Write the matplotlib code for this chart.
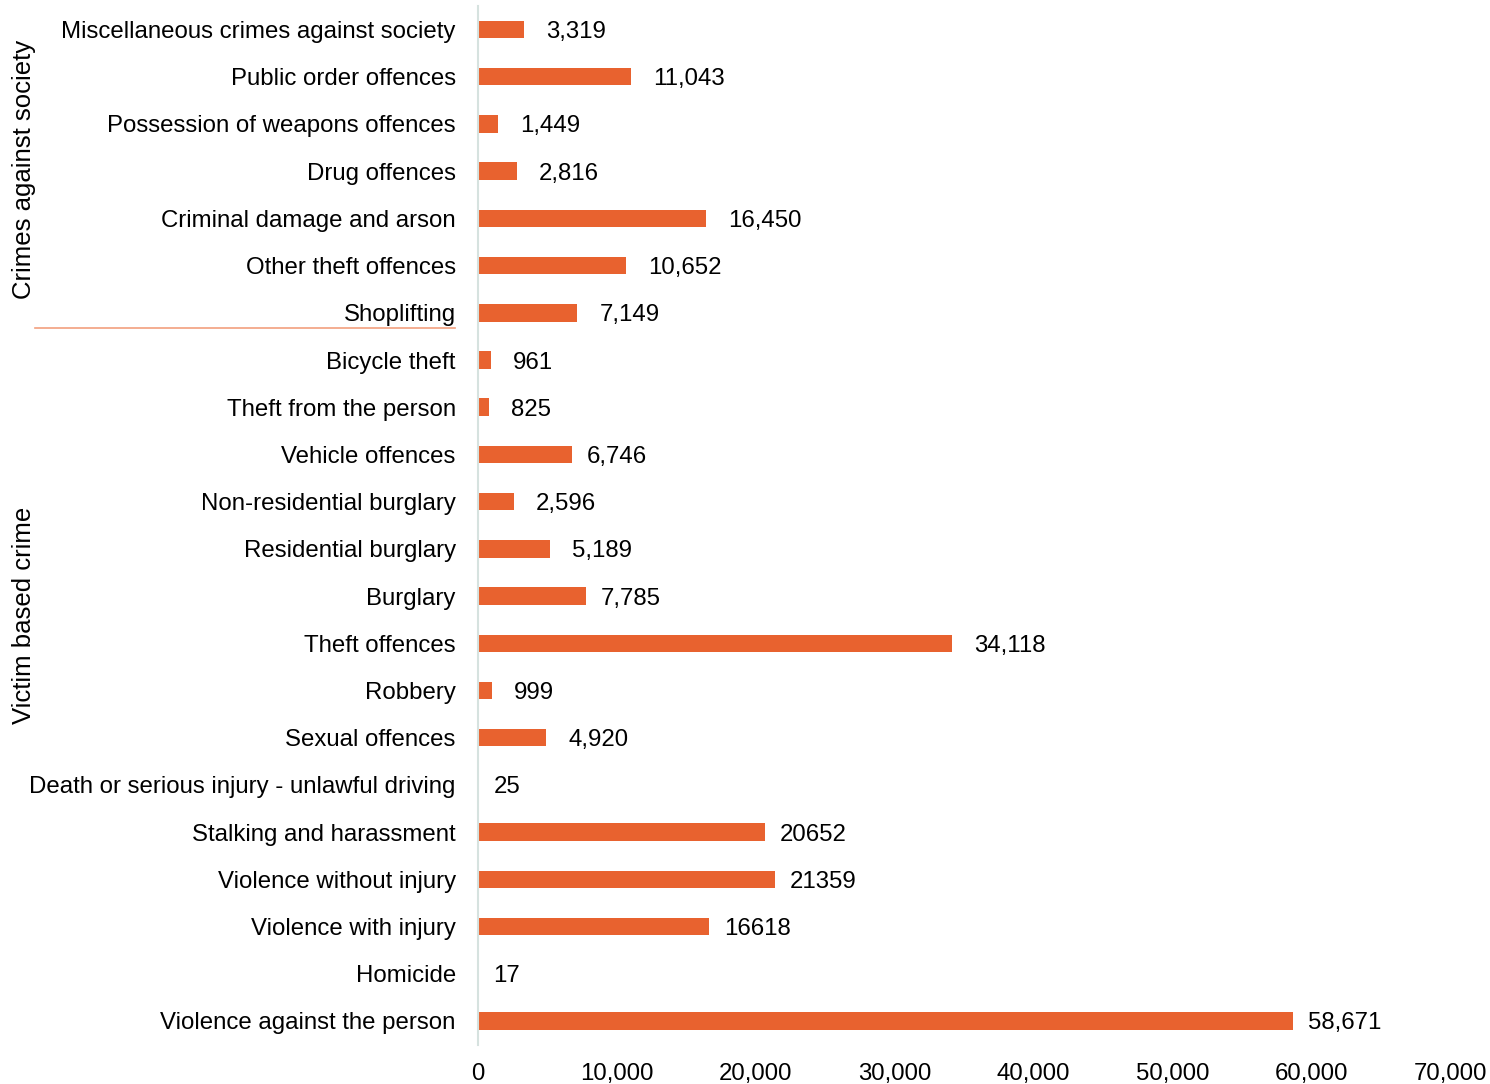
import numpy as np
import matplotlib.pyplot as plt

plt.rcParams['font.family'] = ['Liberation Sans', 'DejaVu Sans']

# offence categories, top to bottom
categories = [
    "Miscellaneous crimes against society",
    "Public order offences",
    "Possession of weapons offences",
    "Drug offences",
    "Criminal damage and arson",
    "Other theft offences",
    "Shoplifting",
    "Bicycle theft",
    "Theft from the person",
    "Vehicle offences",
    "Non-residential burglary",
    "Residential burglary",
    "Burglary",
    "Theft offences",
    "Robbery",
    "Sexual offences",
    "Death or serious injury - unlawful driving",
    "Stalking and harassment",
    "Violence without injury",
    "Violence with injury",
    "Homicide",
    "Violence against the person",
]
counts = [3319, 11043, 1449, 2816, 16450, 10652, 7149, 961, 825, 6746, 2596,
          5189, 7785, 34118, 999, 4920, 25, 20652, 21359, 16618, 17, 58671]
count_labels = ["3,319", "11,043", "1,449", "2,816", "16,450", "10,652", "7,149",
                "961", "825", "6,746", "2,596", "5,189", "7,785", "34,118", "999",
                "4,920", "25", "20652", "21359", "16618", "17", "58,671"]
xticks = [0, 10000, 20000, 30000, 40000, 50000, 60000, 70000]

bar_col = '#E8622F'
fs = 17.3

fig = plt.figure(figsize=(14.9, 10.84), dpi=100)
ax = fig.add_axes([0.3208, 0.03635, 0.6524, 0.9582])

y = np.arange(len(categories))
ax.barh(y, counts, height=0.37, color=bar_col)
ax.set_ylim(len(categories) - 0.5, -0.5)
ax.set_xlim(0, 70000)

ax.set_yticks(y)
ax.set_yticklabels(categories, fontsize=fs)
ax.set_xticks(xticks)
ax.set_xticklabels(["{:,}".format(v) for v in xticks], fontsize=fs)
ax.tick_params(axis='both', length=0, colors='black')
ax.tick_params(axis='y', pad=16)
ax.tick_params(axis='x', pad=13)

for s in ['top', 'right', 'bottom']:
    ax.spines[s].set_visible(False)
ax.spines['left'].set_color('#D6E2DF')
ax.spines['left'].set_linewidth(1.5)

# value labels; a few rows have theirs set closer to the bar end
px = 70000 / (0.6524 * 1490)
tight = {9, 12, 16, 17, 18, 19, 20, 21}
for i, (v, lab) in enumerate(zip(counts, count_labels)):
    off = 15 if i in tight else 22
    ax.text(v + off * px, i, lab, va='center_baseline', ha='left', fontsize=fs)

# group labels and divider
fig.text(24 / 1490, 1 - 169 / 1084, "Crimes against society", rotation=90,
         va='center', ha='center', fontsize=18.5)
fig.text(24 / 1490, 1 - 615 / 1084, "Victim based crime", rotation=90,
         va='center', ha='center', fontsize=18.5)
fig.add_artist(plt.Line2D([35 / 1490, 455 / 1490], [1 - 328 / 1084] * 2,
                          color='#F2A07E', lw=1.2))

fig.savefig('out.png', dpi=100)
